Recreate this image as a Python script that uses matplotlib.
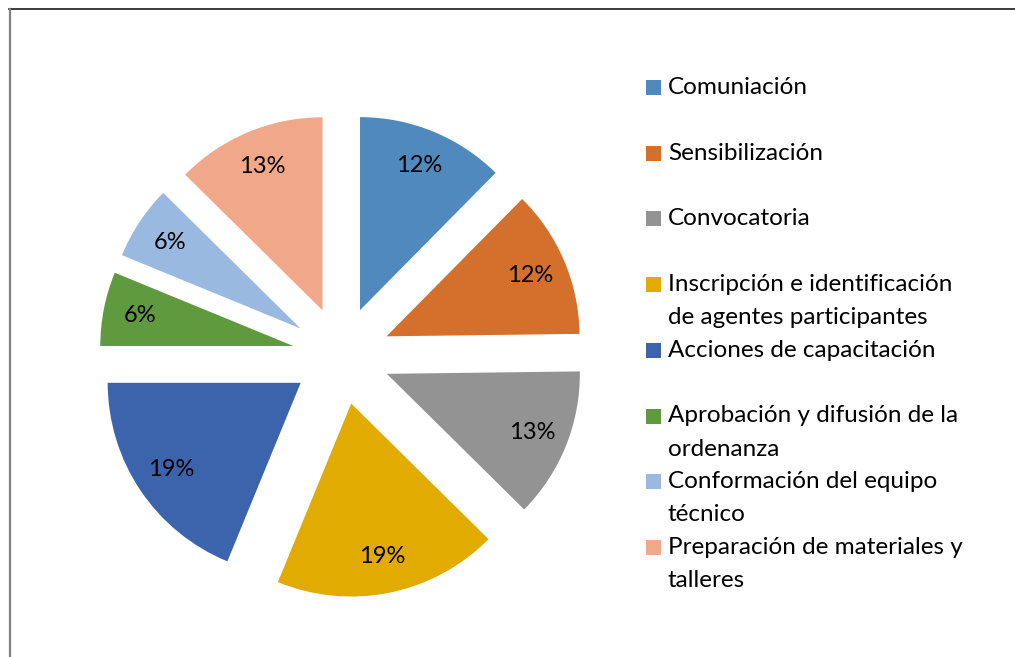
import matplotlib
matplotlib.use("Agg")
import matplotlib.pyplot as plt
from matplotlib.lines import Line2D
from matplotlib.patches import Rectangle

categories = ["Comuniación", "Sensibilización", "Convocatoria",
              "Inscripción e identificación de agentes participantes",
              "Acciones de capacitación",
              "Aprobación y difusión de la ordenanza",
              "Conformación del equipo técnico",
              "Preparación de materiales y talleres"]
legend_labels = ["Comuniación", "Sensibilización", "Convocatoria",
                 "Inscripción e identificación\nde agentes participantes",
                 "Acciones de capacitación",
                 "Aprobación y difusión de la\nordenanza",
                 "Conformación del equipo\ntécnico",
                 "Preparación de materiales y\ntalleres"]
values = [12.4, 12.4, 12.6, 18.8, 18.8, 6.2, 6.2, 12.6]
colors = ["#4F89BE", "#D46F2C", "#939393", "#E2AB00",
          "#3C64AC", "#5F9A3F", "#9AB9E0", "#F1A78A"]

W, H = 1015, 657
plt.rcParams['font.family'] = ['Lato', 'DejaVu Sans']
fig = plt.figure(figsize=(W / 100, H / 100), dpi=100)

# pie axes: centre (341.4, 355.5) px from top-left, radius 193 px
R = 193.0
cx, cy = 341.4, H - 355.5
half = 1.5 * R
ax = fig.add_axes([(cx - half) / W, (cy - half) / H, 2 * half / W, 2 * half / H])
ax.axis("off")

wedges, texts, autotexts = ax.pie(
    values, colors=colors, startangle=90, counterclock=False,
    explode=[0.254] * len(values), radius=1.0, autopct='%.0f%%',
    pctdistance=0.81, wedgeprops=dict(linewidth=0),
    textprops=dict(fontsize=17, color="black"), frame=False)
ax.set_xlim(-1.5, 1.5)
ax.set_ylim(-1.5, 1.5)

# legend drawn manually (Excel style, marker aligned with first line)
leg_x = 646
y0 = 87.5
step = 65.7
sq = 15
fs = 17.5
for i, (lab, col) in enumerate(zip(legend_labels, colors)):
    yc = y0 + i * step
    fig.patches.append(Rectangle((leg_x / W, (H - yc - sq / 2) / H), sq / W, sq / H,
                                 transform=fig.transFigure, facecolor=col,
                                 edgecolor="none"))
    lines = lab.split("\n")
    for j, line in enumerate(lines):
        fig.text((leg_x + 22) / W, (H - yc - 33 * j) / H, line,
                 fontsize=fs, color="black", va="center", ha="left")

# chart border (top and left visible)
fig.add_artist(Line2D([9 / W, 1.0], [(H - 8.5) / H, (H - 8.5) / H],
                      transform=fig.transFigure, color="#1a1a1a", lw=1.2))
fig.add_artist(Line2D([10 / W, 10 / W], [0, (H - 8.5) / H],
                      transform=fig.transFigure, color="#808080", lw=1.6))

fig.savefig("out.png", dpi=100, facecolor="white")
